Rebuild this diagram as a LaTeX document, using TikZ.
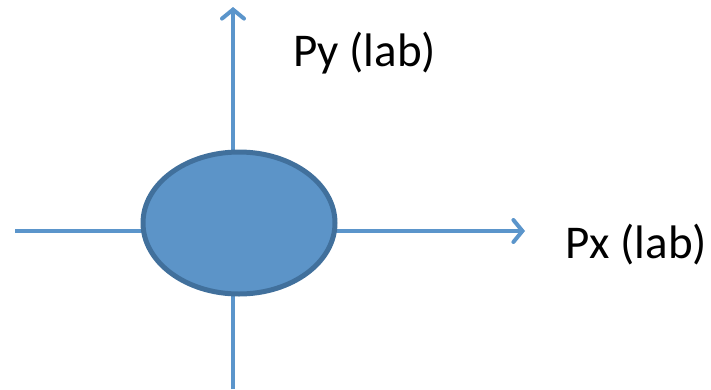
\documentclass[tikz,border=0pt]{standalone}
\usepackage{fontspec}
\setmainfont{Carlito}
\usetikzlibrary{shapes.geometric,arrows.meta}
\definecolor{axisblue}{HTML}{5B95CB}
\definecolor{fillblue}{HTML}{5C94C8}
\definecolor{edgeblue}{HTML}{41709C}
\tikzset{
  axisline/.style={draw=axisblue, line width=4pt},
  axisarrow/.style={axisline, -{Straight Barb[length=9pt,width=22pt,line cap=round]}},
  blob/.style={ellipse, draw=edgeblue, fill=fillblue, line width=5pt, minimum width=192pt, minimum height=142pt, inner sep=0pt},
  lbl/.style={font=\fontsize{47}{56}\selectfont, anchor=base west, inner sep=0pt}
}
\begin{document}
\begin{tikzpicture}[x=1pt,y=-1pt]
\useasboundingbox (0,0) rectangle (711,389);
\coordinate (hL) at (15,231);
\coordinate (hR) at (525,231);
\coordinate (vB) at (233,389);
\coordinate (vT) at (233,7);
\draw[axisarrow] (hL) -- (hR);
\draw[axisarrow] (vB) -- (vT);
\node[blob] (p) at (239,223) {};
\node[lbl] (py) at (293,66) {Py (lab)};
\node[lbl] (px) at (565,258) {Px (lab)};
\end{tikzpicture}
\end{document}
